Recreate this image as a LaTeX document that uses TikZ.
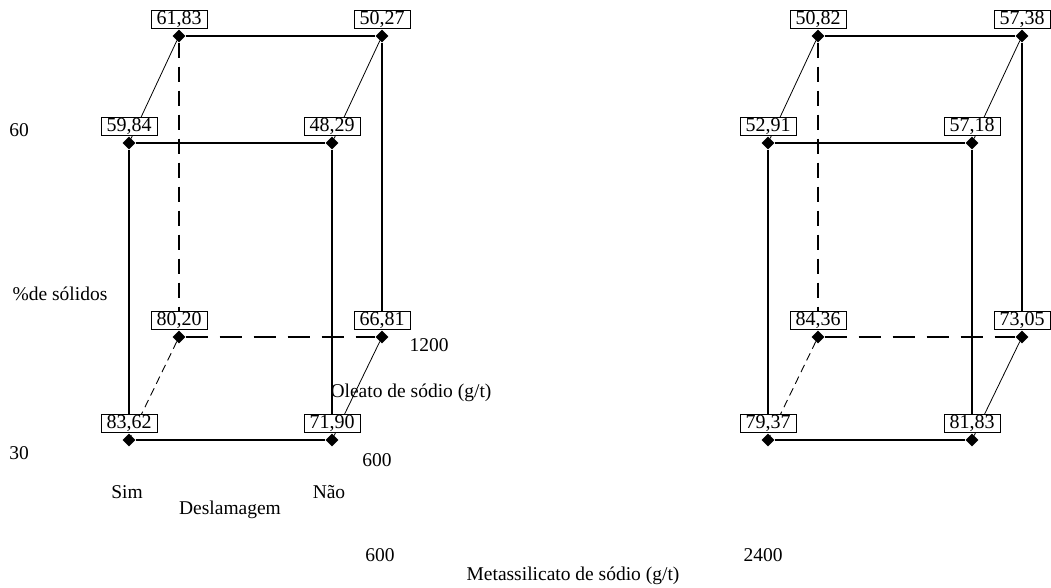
\documentclass[tikz,border=0pt]{standalone}
\usepackage{fontspec}
\setmainfont{Liberation Serif}
\usepackage{tikz}
\usetikzlibrary{positioning,shapes.geometric}

\begin{document}
\begin{tikzpicture}[x=1pt,y=-1pt,
  ponto/.style={diamond,fill=black,inner sep=0pt,minimum width=13pt,minimum height=13pt},
  caixa/.style={draw,fill=white,line width=.8pt,minimum width=56pt,minimum height=18pt,inner sep=0pt,font=\fontsize{20}{20}\selectfont},
  aresta/.style={line width=1.2pt},
  ocultav/.style={line width=1.2pt,dash pattern=on 15pt off 9pt},
  ocultah/.style={line width=1.2pt,dash pattern=on 22pt off 12pt},
  diag/.style={line width=.8pt},
  diagoculta/.style={line width=.9pt,dash pattern=on 8pt off 5pt},
  rotulo/.style={font=\fontsize{19.5}{19.5}\selectfont,inner sep=0pt}]
\path[use as bounding box] (0,0) rectangle (1051,588);

% cubo 1: metassilicato 600
\node[ponto] (a1) at (179,36) {};
\node[ponto] (a2) at (382,36) {};
\node[ponto] (f1) at (129,143) {};
\node[ponto] (f2) at (332,143) {};
\node[ponto] (a3) at (179,337) {};
\node[ponto] (a4) at (382,337) {};
\node[ponto] (f3) at (129,440) {};
\node[ponto] (f4) at (332,440) {};
\draw[aresta] (a1) -- (a2);
\draw[aresta] (f1) -- (f2);
\draw[aresta] (f1) -- (f3);
\draw[aresta] (f2) -- (f4);
\draw[aresta] (a2) -- (a4);
\draw[aresta] (f3) -- (f4);
\draw[ocultav] (a1) -- (a3);
\draw[ocultah] (a3) -- (a4);
\draw[diag] (a1) -- (f1);
\draw[diag] (a2) -- (f2);
\draw[diag] (a4) -- (f4);
\draw[diagoculta] (a3) -- (f3);
\node[caixa,above=7pt of a1.center] (va1) {61,83};
\node[caixa,above=7pt of a2.center] (va2) {50,27};
\node[caixa,above=7pt of f1.center] (vf1) {59,84};
\node[caixa,above=7pt of f2.center] (vf2) {48,29};
\node[caixa,above=7pt of a3.center] (va3) {80,20};
\node[caixa,above=7pt of a4.center] (va4) {66,81};
\node[caixa,above=7pt of f3.center] (vf3) {83,62};
\node[caixa,above=7pt of f4.center] (vf4) {71,90};

% cubo 2: metassilicato 2400
\node[ponto] (b1) at (818,36) {};
\node[ponto] (b2) at (1022,36) {};
\node[ponto] (g1) at (768,143) {};
\node[ponto] (g2) at (972,143) {};
\node[ponto] (b3) at (818,337) {};
\node[ponto] (b4) at (1022,337) {};
\node[ponto] (g3) at (768,440) {};
\node[ponto] (g4) at (972,440) {};
\draw[aresta] (b1) -- (b2);
\draw[aresta] (g1) -- (g2);
\draw[aresta] (g1) -- (g3);
\draw[aresta] (g2) -- (g4);
\draw[aresta] (b2) -- (b4);
\draw[aresta] (g3) -- (g4);
\draw[ocultav] (b1) -- (b3);
\draw[ocultah] (b3) -- (b4);
\draw[diag] (b1) -- (g1);
\draw[diag] (b2) -- (g2);
\draw[diag] (b4) -- (g4);
\draw[diagoculta] (b3) -- (g3);
\node[caixa,above=7pt of b1.center] (vb1) {50,82};
\node[caixa,above=7pt of b2.center] (vb2) {57,38};
\node[caixa,above=7pt of g1.center] (vg1) {52,91};
\node[caixa,above=7pt of g2.center] (vg2) {57,18};
\node[caixa,above=7pt of b3.center] (vb3) {84,36};
\node[caixa,above=7pt of b4.center] (vb4) {73,05};
\node[caixa,above=7pt of g3.center] (vg3) {79,37};
\node[caixa,above=7pt of g4.center] (vg4) {81,83};

% eixos
\node[rotulo] (s60) at (19,130) {60};
\node[rotulo] (solidos) at (60,294) {\%de sólidos};
\node[rotulo] (s30) at (19,453) {30};
\node[rotulo] (o1200) at (429,345) {1200};
\node[rotulo] (oleato) at (411,393) {Oleato de sódio (g/t)};
\node[rotulo] (o600) at (377,460) {600};
\node[rotulo] (sim) at (127,492) {Sim};
\node[rotulo] (nao) at (329,492) {Não};
\node[rotulo] (deslam) at (230,510) {Deslamagem};
\node[rotulo] (m600) at (380,555) {600};
\node[rotulo] (m2400) at (763,555) {2400};
\node[rotulo] (metas) at (573,576) {Metassilicato de sódio (g/t)};
\end{tikzpicture}
\end{document}
